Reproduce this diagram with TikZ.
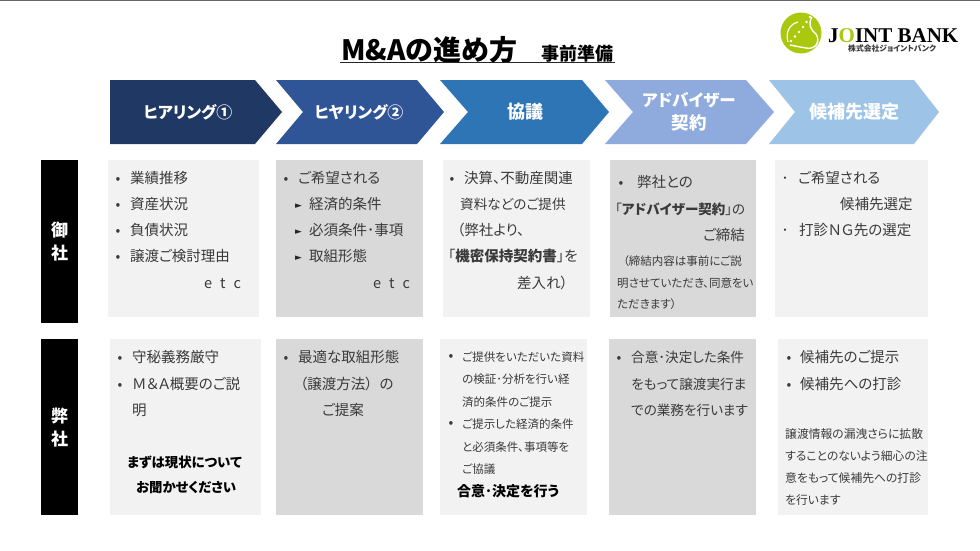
\documentclass[tikz,border=0pt]{standalone}
\usepackage{fontspec}
\setmainfont[RawFeature=+palt]{Noto Sans CJK JP}
\newfontfamily\logofont{Liberation Serif}
\newfontfamily\symfont{DejaVu Sans}
\definecolor{txt}{HTML}{3A3A3A}
\definecolor{ca}{HTML}{203864}
\definecolor{cb}{HTML}{2F5597}
\definecolor{cc}{HTML}{2E75B6}
\definecolor{cd}{HTML}{8FAADC}
\definecolor{ce}{HTML}{9DC3E6}
\definecolor{lbox}{HTML}{F2F2F2}
\definecolor{dbox}{HTML}{D9D9D9}
\definecolor{lime}{HTML}{A9C80E}
\newcommand{\fs}[1]{\fontsize{#1}{#1}\selectfont}
\tikzset{
  lightbox/.style={fill=lbox,draw=none},
  darkbox/.style={fill=dbox,draw=none},
  sidebox/.style={inner sep=0pt,text=white,font=\fs{17}\bfseries,align=center},
  chevlabel/.style={text=white,font=\fs{16}\bfseries,inner sep=0pt,align=center},
  tl/.style={anchor=base west,inner sep=0pt,text=txt,font=\fs{14.5},yshift=-1pt},
  tm/.style={anchor=base west,inner sep=0pt,text=txt,font=\fs{13.6},yshift=-1pt},
  ts/.style={anchor=base west,inner sep=0pt,text=txt,font=\fs{11.5},yshift=-1pt},
  tj/.style={anchor=base west,inner sep=0pt,text=txt,font=\fs{11.8},yshift=-1pt},
  tb/.style={anchor=base west,inner sep=0pt,text=black,font=\fs{13.4}\bfseries,yshift=-1pt},
  bul/.style={anchor=base,inner sep=0pt,text=txt,font=\fs{14},yshift=-1pt},
  tri/.style={anchor=base,inner sep=0pt,text=black!85,font=\symfont\fs{9},yshift=-1pt},
}
\newcommand{\chev}[8]{% color, left, notch(or left), shoulder, tip, name, label, labelx
  \fill[#1] (#2,80) -- (#4,80) -- (#5,112) -- (#4,144) -- (#2,144) -- (#3,112) -- cycle;
  \node[chevlabel] (#6) at (#8,112) {#7};}
\begin{document}
\begin{tikzpicture}[x=1pt,y=-1pt]
\useasboundingbox (0,0) rectangle (980,550);
\fill[white] (0,0) rectangle (980,550);
\fill[black!60] (0,0) rectangle (980,1);
% title
\node[anchor=base west,inner sep=0pt,font=\fs{28}\bfseries] (title) at (341,60) {M\&Aの進め方};
\node[anchor=base west,inner sep=0pt,font=\fs{18}\bfseries] (subtitle) at (541,60) {事前準備};
\draw[line width=1.2pt,black!85] (340,62.5) -- (614.5,62.5);
% logo
\fill[lime] (801,33) circle (20.5);
\draw[white,line width=1.2pt] (788,42) .. controls (785,32) and (790,24) .. (798,22);
\draw[white,line width=1.4pt] (812,17) .. controls (808,24) and (810,29) .. (816,34) .. controls (821,42) and (815,50) .. (806,48) .. controls (800,47) and (795,46) .. (790,45);
\foreach \p in {(810,17),(806.5,22),(803,27),(799,32),(795,36.5),(791,41)} \fill[white] \p circle (1.3);
\node[anchor=base west,inner sep=0pt,font=\logofont\fs{21}\bfseries,text=black] (logoname) at (828,42.5) {J\textcolor{lime}{O}INT BANK};
\node[anchor=base west,inner sep=0pt,font=\fs{7.8}\bfseries,text=txt] (logosub) at (848,51.5) {株式会社ジョイントバンク};
% chevrons
\chev{ca}{110}{110}{255}{282}{ch1}{ヒアリング①}{188}
\chev{cb}{276}{303}{417}{444}{ch2}{ヒヤリング②}{359}
\chev{cc}{440}{468}{582}{609}{ch3}{\fs{18}協議}{525}
\chev{cd}{605}{633}{746}{774}{ch4}{\fs{16.5}アドバイザー\\[5.5pt]\fs{17.5}契約}{689}
\chev{ce}{769}{795}{914}{939}{ch5}{\fs{18}候補先選定}{854}
% side labels
\fill[black] (41,160) rectangle (78,323);
\node[sidebox] (gosha) at (59.5,242) {御\\[6pt]社};
\fill[black] (41,339) rectangle (78,515);
\node[sidebox] (heisha) at (59.5,428) {弊\\[6pt]社};
% row 1 boxes
\fill[lightbox] (108,160) rectangle (259,317);
\fill[darkbox] (276,160) rectangle (423,317);
\fill[lightbox] (443,160) rectangle (590,317);
\fill[darkbox] (610,160) rectangle (756,317);
\fill[lightbox] (775,160) rectangle (928,317);
% row 2 boxes
\fill[lightbox] (110,339) rectangle (261,515);
\fill[darkbox] (276,339) rectangle (423,515);
\fill[lightbox] (440,339) rectangle (587,515);
\fill[darkbox] (609,339) rectangle (756,515);
\fill[lightbox] (778,339) rectangle (928,515);
% box 1,1
\node[bul] (a1b) at (118,182) {•};
\node[tl] (a1) at (130,182) {業績推移};
\node[bul] (a2b) at (118,208) {•};
\node[tl] (a2) at (130,208) {資産状況};
\node[bul] (a3b) at (118,234) {•};
\node[tl] (a3) at (130,234) {負債状況};
\node[bul] (a4b) at (118,260) {•};
\node[tl] (a4) at (130,260) {譲渡ご検討理由};
\node[tl] (a5) at (204,287) {e\hspace{8pt}t\hspace{8pt}c};
% box 1,2
\node[bul] (b1b) at (286,182) {•};
\node[tl] (b1) at (298,182) {ご希望される};
\node[tri] (b2b) at (298.5,207) {►};
\node[tl] (b2) at (309,208) {経済的条件};
\node[tri] (b3b) at (298.5,233) {►};
\node[tl] (b3) at (309,234) {必須条件･事項};
\node[tri] (b4b) at (298.5,259) {►};
\node[tl] (b4) at (309,260) {取組形態};
\node[tl] (b5) at (373,287) {e\hspace{8pt}t\hspace{8pt}c};
% box 1,3
\node[bul] (c1b) at (452,182) {•};
\node[tl] (c1) at (464,182) {決算、不動産関連};
\node[tm] (c2) at (460,208) {資料などのご提供};
\node[tl] (c3) at (457,234) {（弊社より、};
\node[tl] (c4) at (448,260) {「\textbf{機密保持契約書}」を};
\node[tl] (c5) at (517,287) {差入れ）};
% box 1,4
\node[bul] (d1b) at (621,186) {•};
\node[tl] (d1) at (637,186) {弊社との};
\node[tl,font=\fs{13.5}] (d2) at (615,213) {「\textbf{アドバイザー契約}」の};
\node[tl] (d3) at (703,239) {ご締結};
\node[ts] (d4) at (623,264) {（締結内容は事前にご説};
\node[ts] (d5) at (617,286) {明させていただき、同意をい};
\node[ts] (d6) at (617,307) {ただきます）};
% box 1,5
\node[bul] (e1b) at (785,182) {･};
\node[tl] (e1) at (798,182) {ご希望される};
\node[tl] (e2) at (840,208) {候補先選定};
\node[bul] (e3b) at (785,234) {･};
\node[tl] (e3) at (799,234) {打診ＮＧ先の選定};
% box 2,1
\node[bul] (f1b) at (120,361) {•};
\node[tl] (f1) at (132,361) {守秘義務厳守};
\node[bul] (f2b) at (120,388) {•};
\node[tl] (f2) at (132,388) {Ｍ＆Ａ概要のご説};
\node[tl] (f3) at (132,414) {明};
\node[tb] (f4) at (127,466) {まずは現状について};
\node[tb] (f5) at (136,491) {お聞かせください};
% box 2,2
\node[bul] (g1b) at (286,361) {•};
\node[tl] (g1) at (298,361) {最適な取組形態};
\node[tl] (g2) at (300,388) {（譲渡方法）\hspace{7pt}の};
\node[tl] (g3) at (322,414) {ご提案};
% box 2,3
\node[bul] (h1b) at (451,359) {•};
\node[ts] (h1) at (462,360) {ご提供をいただいた資料};
\node[ts] (h2) at (462,382) {の検証･分析を行い経};
\node[ts] (h3) at (462,405) {済的条件のご提示};
\node[bul] (h4b) at (451,426) {•};
\node[ts] (h4) at (462,427) {ご提示した経済的条件};
\node[ts] (h5) at (462,450) {と必須条件、事項等を};
\node[ts] (h6) at (462,472) {ご協議};
\node[tb,font=\fs{14}\bfseries] (h7) at (457,495) {合意･決定を行う};
% box 2,4
\node[bul] (i1b) at (619,361) {•};
\node[tm] (i1) at (631,361) {合意･決定した条件};
\node[tm] (i2) at (631,388) {をもって譲渡実行ま};
\node[tm] (i3) at (631,414) {での業務を行います};
% box 2,5
\node[bul] (j1b) at (789,361) {•};
\node[tl] (j1) at (800,361) {候補先のご提示};
\node[bul] (j2b) at (789,388) {•};
\node[tl] (j2) at (800,388) {候補先への打診};
\node[tj] (j3) at (785,437) {譲渡情報の漏洩さらに拡散};
\node[tj] (j4) at (785,459) {することのないよう細心の注};
\node[tj] (j5) at (785,481) {意をもって候補先への打診};
\node[tj] (j6) at (785,503) {を行います};
\end{tikzpicture}
\end{document}
